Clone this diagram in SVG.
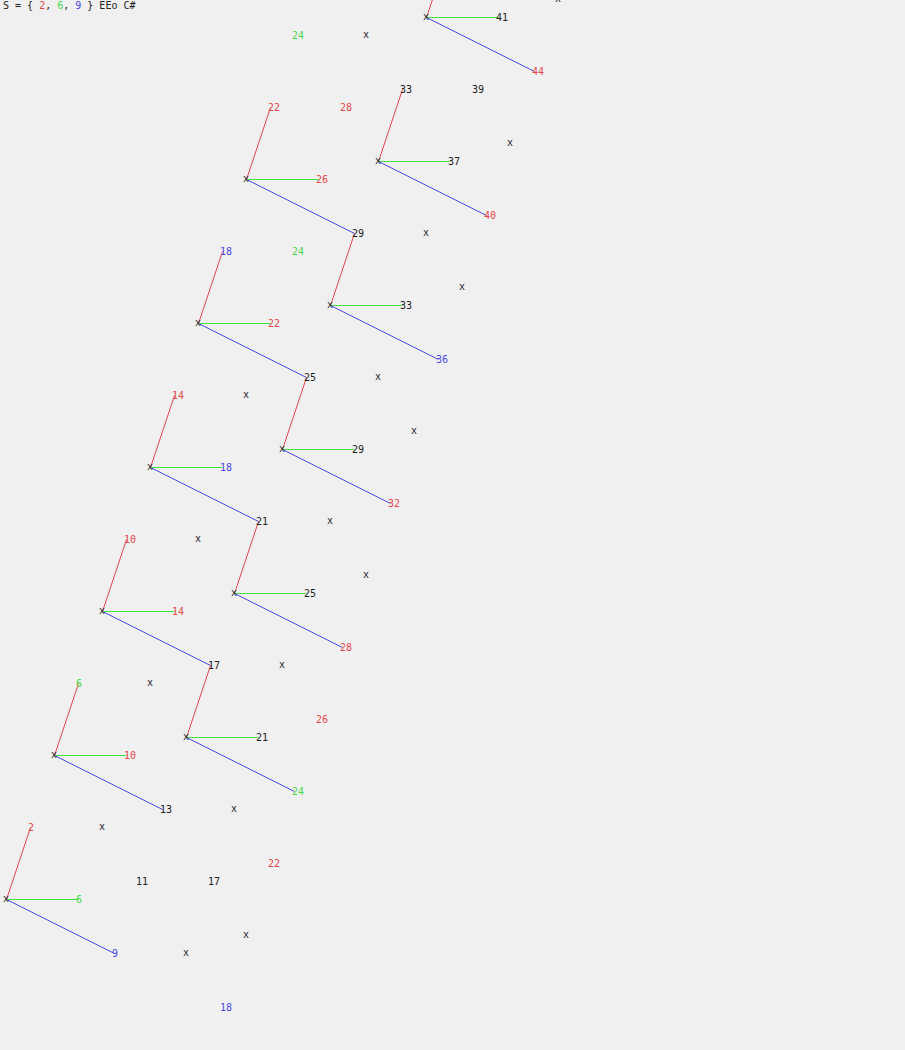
<svg xmlns="http://www.w3.org/2000/svg" width="905" height="1050" viewBox="0 0 905 1050">
<defs>
<style>
text{font-family:"DejaVu Sans Mono","Liberation Mono",monospace;font-size:10px;fill:#222}
.m{text-anchor:middle}
.R{fill:#e04848}.G{fill:#48d848}.B{fill:#4848e0}
line{stroke-width:1}
.lr{stroke:#e04848}.lg{stroke:#40e040}.lb{stroke:#4848e8}
</style>
</defs>
<rect width="905" height="1050" fill="#f0f0f0"/>
<text x="3" y="9">S = { <tspan class="R">2</tspan>, <tspan class="G">6</tspan>, <tspan class="B">9</tspan> } EEo C#</text>
<g id="connectors">
<line class="lr" x1="6.5" y1="899.5" x2="30.5" y2="827.5"/><line class="lg" x1="6.5" y1="899.5" x2="78.5" y2="899.5"/><line class="lb" x1="6.5" y1="899.5" x2="114.5" y2="953.5"/>
<line class="lr" x1="54.5" y1="755.5" x2="78.5" y2="683.5"/><line class="lg" x1="54.5" y1="755.5" x2="126.5" y2="755.5"/><line class="lb" x1="54.5" y1="755.5" x2="162.5" y2="809.5"/>
<line class="lr" x1="102.5" y1="611.5" x2="126.5" y2="539.5"/><line class="lg" x1="102.5" y1="611.5" x2="174.5" y2="611.5"/><line class="lb" x1="102.5" y1="611.5" x2="210.5" y2="665.5"/>
<line class="lr" x1="150.5" y1="467.5" x2="174.5" y2="395.5"/><line class="lg" x1="150.5" y1="467.5" x2="222.5" y2="467.5"/><line class="lb" x1="150.5" y1="467.5" x2="258.5" y2="521.5"/>
<line class="lr" x1="198.5" y1="323.5" x2="222.5" y2="251.5"/><line class="lg" x1="198.5" y1="323.5" x2="270.5" y2="323.5"/><line class="lb" x1="198.5" y1="323.5" x2="306.5" y2="377.5"/>
<line class="lr" x1="246.5" y1="179.5" x2="270.5" y2="107.5"/><line class="lg" x1="246.5" y1="179.5" x2="318.5" y2="179.5"/><line class="lb" x1="246.5" y1="179.5" x2="354.5" y2="233.5"/>
<line class="lr" x1="186.5" y1="737.5" x2="210.5" y2="665.5"/><line class="lg" x1="186.5" y1="737.5" x2="258.5" y2="737.5"/><line class="lb" x1="186.5" y1="737.5" x2="294.5" y2="791.5"/>
<line class="lr" x1="234.5" y1="593.5" x2="258.5" y2="521.5"/><line class="lg" x1="234.5" y1="593.5" x2="306.5" y2="593.5"/><line class="lb" x1="234.5" y1="593.5" x2="342.5" y2="647.5"/>
<line class="lr" x1="282.5" y1="449.5" x2="306.5" y2="377.5"/><line class="lg" x1="282.5" y1="449.5" x2="354.5" y2="449.5"/><line class="lb" x1="282.5" y1="449.5" x2="390.5" y2="503.5"/>
<line class="lr" x1="330.5" y1="305.5" x2="354.5" y2="233.5"/><line class="lg" x1="330.5" y1="305.5" x2="402.5" y2="305.5"/><line class="lb" x1="330.5" y1="305.5" x2="438.5" y2="359.5"/>
<line class="lr" x1="378.5" y1="161.5" x2="402.5" y2="89.5"/><line class="lg" x1="378.5" y1="161.5" x2="450.5" y2="161.5"/><line class="lb" x1="378.5" y1="161.5" x2="486.5" y2="215.5"/>
<line class="lr" x1="426.5" y1="17.5" x2="450.5" y2="-54.5"/><line class="lg" x1="426.5" y1="17.5" x2="498.5" y2="17.5"/><line class="lb" x1="426.5" y1="17.5" x2="534.5" y2="71.5"/>
</g>
<g id="nodes">
<g id="n0"><text class="m" x="6" y="902">x</text></g>
<g id="n4"><text class="m" x="54" y="758">x</text></g>
<g id="n8"><text class="m" x="102" y="614">x</text></g>
<g id="n12"><text class="m" x="150" y="470">x</text></g>
<g id="n16"><text class="m" x="198" y="326">x</text></g>
<g id="n20"><text class="m" x="246" y="182">x</text></g>
<g id="n15"><text class="m" x="186" y="740">x</text></g>
<g id="n19"><text class="m" x="234" y="596">x</text></g>
<g id="n23"><text class="m" x="282" y="452">x</text></g>
<g id="n27"><text class="m" x="330" y="308">x</text></g>
<g id="n31"><text class="m" x="378" y="164">x</text></g>
<g id="n35"><text class="m" x="426" y="20">x</text></g>
</g>
<g id="labels">
<g id="l2"><text class="R" x="28" y="830.5">2</text></g>
<g id="l6a"><text class="G" x="76" y="902.5">6</text></g>
<g id="l9"><text class="B" x="112" y="956.5">9</text></g>
<g id="l6b"><text class="G" x="76" y="686.5">6</text></g>
<g id="l10a"><text class="R" x="124" y="758.5">10</text></g>
<g id="l13"><text x="160" y="812.5">13</text></g>
<g id="l10b"><text class="R" x="124" y="542.5">10</text></g>
<g id="l14a"><text class="R" x="172" y="614.5">14</text></g>
<g id="l17a"><text x="208" y="668.5">17</text></g>
<g id="l14b"><text class="R" x="172" y="398.5">14</text></g>
<g id="l18a"><text class="B" x="220" y="470.5">18</text></g>
<g id="l21a"><text x="256" y="524.5">21</text></g>
<g id="l18b"><text class="B" x="220" y="254.5">18</text></g>
<g id="l22a"><text class="R" x="268" y="326.5">22</text></g>
<g id="l25a"><text x="304" y="380.5">25</text></g>
<g id="l22b"><text class="R" x="268" y="110.5">22</text></g>
<g id="l26a"><text class="R" x="316" y="182.5">26</text></g>
<g id="l29a"><text x="352" y="236.5">29</text></g>
<g id="l21b"><text x="256" y="740.5">21</text></g>
<g id="l24a"><text class="G" x="292" y="794.5">24</text></g>
<g id="l25b"><text x="304" y="596.5">25</text></g>
<g id="l28a"><text class="R" x="340" y="650.5">28</text></g>
<g id="l29b"><text x="352" y="452.5">29</text></g>
<g id="l32"><text class="R" x="388" y="506.5">32</text></g>
<g id="l33a"><text x="400" y="308.5">33</text></g>
<g id="l36"><text class="B" x="436" y="362.5">36</text></g>
<g id="l33b"><text x="400" y="92.5">33</text></g>
<g id="l37"><text x="448" y="164.5">37</text></g>
<g id="l40"><text class="R" x="484" y="218.5">40</text></g>
<g id="l41"><text x="496" y="20.5">41</text></g>
<g id="l44"><text class="R" x="532" y="74.5">44</text></g>
<g id="l24b"><text class="G" x="292" y="38.5">24</text></g>
<g id="l39"><text x="472" y="92.5">39</text></g>
<g id="l28b"><text class="R" x="340" y="110.5">28</text></g>
<g id="l24c"><text class="G" x="292" y="254.5">24</text></g>
<g id="l26b"><text class="R" x="316" y="722.5">26</text></g>
<g id="l22c"><text class="R" x="268" y="866.5">22</text></g>
<g id="l11"><text x="136" y="884.5">11</text></g>
<g id="l17b"><text x="208" y="884.5">17</text></g>
<g id="l18c"><text class="B" x="220" y="1010.5">18</text></g>
</g>
<g id="points">
<text class="m" x="366" y="38">x</text>
<text class="m" x="558" y="2">x</text>
<text class="m" x="510" y="146">x</text>
<text class="m" x="426" y="236">x</text>
<text class="m" x="462" y="290">x</text>
<text class="m" x="378" y="380">x</text>
<text class="m" x="246" y="398">x</text>
<text class="m" x="414" y="434">x</text>
<text class="m" x="330" y="524">x</text>
<text class="m" x="198" y="542">x</text>
<text class="m" x="366" y="578">x</text>
<text class="m" x="282" y="668">x</text>
<text class="m" x="150" y="686">x</text>
<text class="m" x="234" y="812">x</text>
<text class="m" x="102" y="830">x</text>
<text class="m" x="246" y="938">x</text>
<text class="m" x="186" y="956">x</text>
</g>
</svg>
